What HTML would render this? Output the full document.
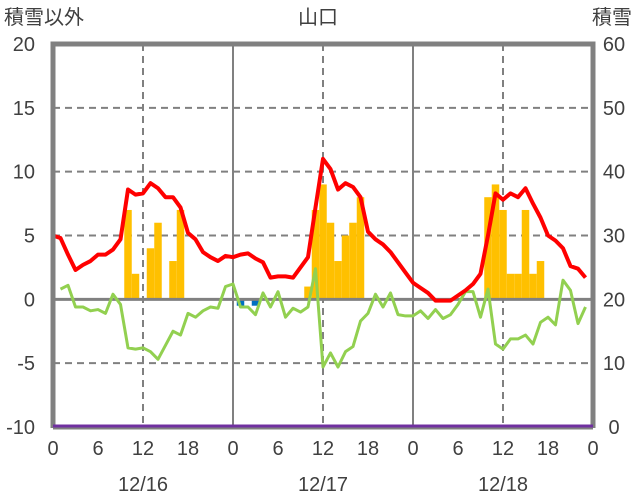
<!DOCTYPE html>
<html><head><meta charset="utf-8"><style>
body{margin:0;background:#fff;}
svg{display:block;font-family:"Liberation Sans","Noto Sans CJK JP",sans-serif;}
</style></head><body>
<svg id="c" width="636" height="501"></svg>
<script>
const redSeries=[5.0,4.8,3.5,2.3,2.7,3.0,3.5,3.5,3.9,4.7,8.6,8.2,8.3,9.1,8.7,8.0,8.0,7.2,5.2,4.7,3.7,3.3,3.0,3.4,3.3,3.5,3.6,3.2,2.9,1.7,1.8,1.8,1.7,2.5,3.3,7.2,11.0,10.2,8.6,9.1,8.8,8.0,5.3,4.7,4.3,3.7,2.9,2.1,1.3,0.9,0.5,-0.1,-0.1,-0.1,0.3,0.7,1.2,2.0,5.0,8.3,7.8,8.3,8.0,8.7,7.5,6.4,5.0,4.6,4.0,2.6,2.4,1.7];
const greenSeries=[null,0.8,1.1,-0.6,-0.6,-0.9,-0.8,-1.1,0.4,-0.4,-3.8,-3.9,-3.8,-4.1,-4.7,-3.6,-2.5,-2.8,-1.1,-1.4,-0.9,-0.6,-0.7,1.0,1.2,-0.6,-0.6,-1.2,0.5,-0.6,0.6,-1.4,-0.7,-1.0,-0.6,2.4,-5.3,-4.2,-5.3,-4.1,-3.7,-1.7,-1.1,0.4,-0.6,0.5,-1.2,-1.3,-1.3,-0.9,-1.5,-0.8,-1.5,-1.2,-0.4,0.6,0.6,-1.4,0.8,-3.5,-3.9,-3.1,-3.1,-2.8,-3.5,-1.8,-1.4,-2.0,1.5,0.7,-1.9,-0.6];
const orangeHours=[10,11,13,14,16,17,34,35,36,37,38,39,40,41,58,59,60,61,62,63,64,65];
const orangeValues=[7,2,4,6,3,7,1,7,9,6,3,5,6,8,8,9,7,2,2,7,2,3];
const blueHours=[25,27];
const blueValues=[-0.5,-0.5];
const leftTicks=[20,15,10,5,0,-5,-10];
const rightTicks=[60,50,40,30,20,10,0];
const xTickLabels=["0","6","12","18","0","6","12","18","0","6","12","18","0"];
const dateLabels=["12/16","12/17","12/18"];

const svg=document.getElementById('c');
const NS='http://www.w3.org/2000/svg';
const X0=53,X1=593,Y0=44,Y1=427;
const xs=h=>X0+h*(X1-X0)/72;
const ys=v=>Y1-(v+10)*(Y1-Y0)/30;
function mk(t,a,p){const e=document.createElementNS(NS,t);for(const k in a)e.setAttribute(k,a[k]);(p||svg).appendChild(e);return e;}
// gridlines
for(const v of [15,10,5,-5]){const l=mk('line',{x1:X0,x2:X1,y1:ys(v),y2:ys(v),stroke:'#808080','stroke-width':2,'stroke-dasharray':'7,5'});

}
for(const h of [12,36,60]){const l=mk('line',{x1:xs(h),x2:xs(h),y1:Y0,y2:Y1,stroke:'#808080','stroke-width':2,'stroke-dasharray':'7,5'});

}
for(const h of [24,48]){const l=mk('line',{x1:xs(h),x2:xs(h),y1:Y0,y2:Y1,stroke:'#808080','stroke-width':2});

}
// bars
const bw=(X1-X0)/72;
orangeHours.forEach((h,i)=>{const v=orangeValues[i];const r=mk('rect',{x:xs(h)-bw/2,y:ys(v),width:bw,height:ys(0)-ys(v),fill:'#FFC000'});

});
blueHours.forEach((h,i)=>{const v=blueValues[i];const r=mk('rect',{x:xs(h)-bw/2,y:ys(0),width:bw,height:ys(v)-ys(0),fill:'#0070C0'});

});
// zero line
const z=mk('line',{x1:X0,x2:X1,y1:ys(0),y2:ys(0),stroke:'#808080','stroke-width':3});


function line(arr,col,w,name){let d='';arr.forEach((v,i)=>{if(v==null)return;d+=(d?'L':'M')+xs(i)+','+ys(v);});
const p=mk('path',{d:d,fill:'none',stroke:col,'stroke-width':w,'stroke-linejoin':'round'});

}
line(greenSeries,'#92D050',3,'green-series');
line(redSeries,'#FF0000',4,'red-series');
// frame
const f=mk('path',{d:`M${X0},${Y1+1}V${Y0}H${X1}V${Y1+1}`,fill:'none',stroke:'#808080','stroke-width':5});


const b=mk('line',{x1:X0,x2:X1,y1:Y1+1,y2:Y1+1,stroke:'#808080','stroke-width':3});


const pu=mk('line',{x1:X0,x2:X1,y1:Y1-1,y2:Y1-1,stroke:'#7030A0','stroke-width':3});


// labels
function txt(s,x,y,anchor,name){const t=mk('text',{x:x,y:y,'text-anchor':anchor,'font-size':20,fill:'#404040'});t.textContent=s;

return t;}
leftTicks.forEach(v=>txt(String(v),35,ys(v)+7,'end','left-tick-label'));
rightTicks.forEach((v,i)=>txt(String(v),614,ys(leftTicks[i])+7,'middle','right-tick-label'));
xTickLabels.forEach((s,i)=>txt(s,xs(i*6),455,'middle','x-tick-label'));
dateLabels.forEach((s,i)=>txt(s,xs(12+24*i),491,'middle','date-label'));
txt('積雪以外',4,24,'start','left-axis-title');
txt('積雪',632,24,'end','right-axis-title');
txt('山口',318,24,'middle','chart-title');
</script>
</body></html>
